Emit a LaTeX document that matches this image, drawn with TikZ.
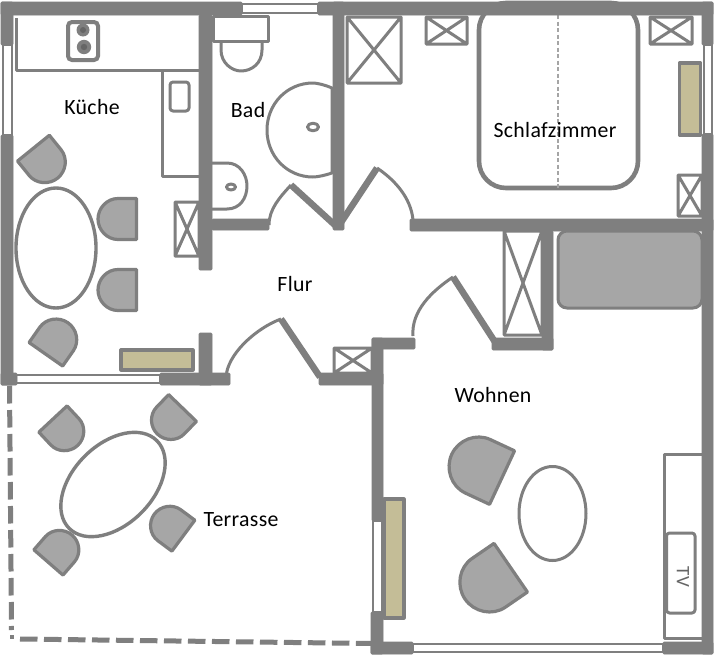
\documentclass[tikz,border=0pt]{standalone}
\usepackage{fontspec}
\setmainfont[LetterSpace=1.5]{Carlito}
\definecolor{wallgray}{HTML}{7F7F7F}
\definecolor{chairgray}{HTML}{A6A6A6}
\definecolor{radtan}{HTML}{C4BD97}
\definecolor{inner}{HTML}{666666}
\newcommand{\chairat}[4]{\begin{scope}[shift={(#1,#2)},rotate=#3,scale=#4]
\draw[chairline] (-1.5,-20.5) -- (-20,-20.5) .. controls (-31,-20.5) and (-40,-11) .. (-40,0) .. controls (-40,11) and (-31,20.5) .. (-20,20.5) -- (-1.5,20.5) -- cycle;
\end{scope}}
\newcommand{\xbox}[4]{\draw[furn] (#1,#2) rectangle (#3,#4) (#1,#2) -- (#3,#4) (#3,#2) -- (#1,#4);}
\tikzset{
 wall/.style={fill=wallgray,draw=wallgray,line width=.6pt,rounded corners=1pt},
 furn/.style={draw=wallgray,line width=3pt,line join=round},
 chairline/.style={draw=wallgray,fill=chairgray,line width=3.2pt,line join=round},
 radiator/.style={draw=wallgray,fill=radtan,line width=3.2pt,line join=round},
 leaf/.style={draw=wallgray,line width=6.5pt},
 swing/.style={draw=wallgray,line width=3pt},
 win/.style={draw=wallgray,line width=2pt},
 terr/.style={draw=wallgray,line width=5pt,dash pattern=on 17.5pt off 6.5pt},
 room/.style={text=black,font=\fontsize{21.8}{23}\selectfont,inner sep=0pt},
}
\begin{document}
\begin{tikzpicture}[x=1pt,y=-1pt]
\useasboundingbox[fill=white] (0,0) rectangle (715,656);
% bed
\draw[draw=wallgray,line width=4.6pt,rounded corners=27pt] (479,3) rectangle (638,188);
\draw[draw=wallgray!70,line width=1.2pt,dash pattern=on 4pt off 2.5pt] (558,15) -- (558,188);
% windows
\draw[win] (3,45) rectangle (12,135);
\draw[win] (242,4) rectangle (318,13);
\draw[win] (13,375) rectangle (160,383);
\draw[win] (704,45) rectangle (712,134);
\draw[win] (373,521) rectangle (382,612);
\draw[win] (413,644) rectangle (663,652);
% kitchen
\draw[furn] (16,18) -- (16,70) -- (199,70);
\draw[furn] (162,70) -- (162,176) -- (199,176);
\draw[furn,rounded corners=3pt] (170,82) rectangle (189,111);
\draw[draw=wallgray,line width=4pt,rounded corners=4pt] (68,22) rectangle (98,60);
\fill[wallgray] (83,30) circle[radius=6.5] (84,47) circle[radius=7.2];
\fill[inner] (83,30) circle[radius=3] (84,47) circle[radius=3.2];
% bath
\draw[furn] (213,16) rectangle (268,41);
\draw[furn] (221,41) -- (221,50) .. controls (221,63) and (232,71) .. (241,71) .. controls (252,71) and (262,63) .. (262,50) -- (262,41);
\draw[furn] (332,88) .. controls (324,84.5) and (316,83) .. (313,83) .. controls (287,83) and (267,104) .. (267,130) .. controls (267,156) and (287,177) .. (313,177) .. controls (318,177) and (326,175) .. (332,173) -- cycle;
\draw[furn] (313,127) ellipse[x radius=5.5,y radius=3.8];
\draw[furn] (212,163) -- (227,163) .. controls (240,163) and (247,175) .. (247,186) .. controls (247,198) and (240,209) .. (227,209) -- (212,209);
\draw[furn] (231,187) ellipse[x radius=4.5,y radius=3];
% closets
\xbox{347}{17}{401}{83}
\xbox{426}{17}{467}{44}
\xbox{650}{17}{692}{44}
\xbox{678}{175}{702}{216}
\xbox{504}{231}{542}{335}
\xbox{175}{202}{199}{256}
\xbox{334}{348}{372}{373}
% radiators
\draw[radiator] (679.5,63) rectangle (700.5,135);
\draw[radiator] (121,350) rectangle (193,370);
\draw[radiator] (384,499) rectangle (404,618);
% sofa
\draw[draw=wallgray,fill=chairgray,line width=3pt,rounded corners=9pt] (558,231) rectangle (702,308);
% tables
\draw[draw=wallgray,line width=3.4pt] (56,248) ellipse[x radius=40,y radius=60];
\draw[draw=wallgray,line width=3.4pt,rotate around={45:(113,484.5)}] (113,484.5) ellipse[x radius=62,y radius=40];
\draw[draw=wallgray,line width=3pt] (552.5,513.5) ellipse[x radius=33.5,y radius=47];
% chairs
\chairat{32.5}{147}{129}{1}
\chairat{138}{219}{0}{1}
\chairat{138}{290}{0}{1}
\chairat{45}{355.5}{235}{1}
\chairat{52}{418}{133}{.94}
\chairat{183.5}{407}{46}{.94}
\chairat{184.5}{536.5}{-36.6}{.94}
\chairat{47.5}{563.5}{229}{.94}
\chairat{504}{478.5}{-25}{1.44}
\chairat{512.5}{566.5}{34.5}{1.44}
% TV bench
\draw[furn] (702,454) -- (664,454) -- (664,638) -- (702,638);
\draw[furn,rounded corners=3pt] (666.5,533) rectangle (695,613);
\node[rotate=-90,text=wallgray!80!black,font=\fontsize{19}{20}\selectfont,inner sep=0pt] (tv) at (683,577) {TV};
% terrace boundary
\draw[terr] (9.5,386) -- (11.5,630);
\fill[wallgray] (9.5,634.5) rectangle (14,639);
\draw[terr] (20,639) -- (372,643.5);
% doors
\coordinate (h1) at (337,227); \coordinate (a1) at (291,185);
\coordinate (h2) at (338,227); \coordinate (a2) at (377,168);
\coordinate (h3) at (495,342); \coordinate (a3) at (453,277);
\coordinate (h4) at (320,377); \coordinate (a4) at (281,319);
\draw[swing] (a1) .. controls (280,197) and (269,209) .. (269,225);
\draw[swing] (a2) .. controls (395,180) and (411,198) .. (413,220);
\draw[swing] (a3) .. controls (432,291) and (411,311) .. (413,336);
\draw[swing] (a4) .. controls (259,327) and (231,350) .. (226.5,373);
\draw[leaf] (h1) -- (a1);
\draw[leaf] (h2) -- (a2);
\draw[leaf] (h3) -- (a3);
\draw[leaf] (h4) -- (a4);
% walls
\path[wall] (1,2) rectangle (242,15);
\path[wall] (318,2) rectangle (713,15);
\path[wall] (1,2) rectangle (13,45);
\path[wall] (1,135) rectangle (13,385);
\path[wall] (702,2) rectangle (713,45);
\path[wall] (702,134) rectangle (713,654);
\path[wall] (199,15) rectangle (212,270);
\path[wall] (199,333) rectangle (212,385);
\path[wall] (1,373) rectangle (17,385);
\path[wall] (160,373) rectangle (230,385);
\path[wall] (319,373) rectangle (383,385);
\path[wall] (333,2) rectangle (344,230);
\path[wall] (212,219) rectangle (269,230);
\path[wall] (410,219) rectangle (713,231);
\path[wall] (542,231) rectangle (553,350);
\path[wall] (492,338) rectangle (553,350);
\path[wall] (372,338) rectangle (415,349);
\path[wall] (372,338) rectangle (383,521);
\path[wall] (371,612) rectangle (383,654);
\path[wall] (371,642) rectangle (413,654);
\path[wall] (663,642) rectangle (713,654);
% labels
\node[room] (kueche) at (92,107) {Küche};
\node[room] (bad) at (248,110) {Bad};
\node[room] (schlaf) at (555,130) {Schlafzimmer};
\node[room] (flur) at (295,284) {Flur};
\node[room] (wohnen) at (493,395) {Wohnen};
\node[room] (terrasse) at (241,520) {Terrasse};
\end{tikzpicture}
\end{document}
